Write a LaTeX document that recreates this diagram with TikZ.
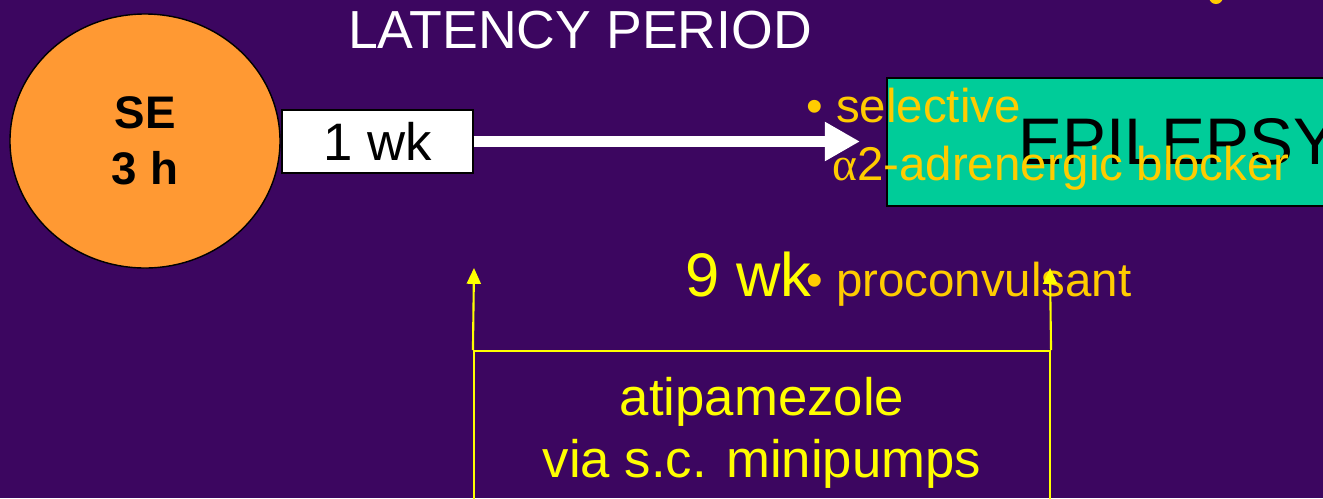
\documentclass[tikz,border=0pt]{standalone}
\usepackage{fontspec}
\setmainfont{Liberation Sans}
\newfontfamily\greekfont{Liberation Serif}
\usetikzlibrary{arrows.meta,shapes.geometric}
\definecolor{bgpurple}{HTML}{3C0660}
\definecolor{seorange}{HTML}{FF9933}
\definecolor{epigreen}{HTML}{00CC99}
\definecolor{bulletgold}{HTML}{FFCC00}
\definecolor{pumpyellow}{HTML}{FFFF00}
\begin{document}
\begin{tikzpicture}[x=0.2mm, y=-0.2mm,
    every node/.style={inner sep=0pt},
    bul/.style={text=bulletgold, font=\fontsize{27}{32}\selectfont, anchor=base west},
    yline/.style={pumpyellow, line width=1.2pt},
    ytip/.style={-{Triangle[length=9pt,width=8pt]}}]
    \fill[bgpurple] (0,0) rectangle (1323,498);
    \useasboundingbox (0,0) rectangle (1323,498);
    \fill[bulletgold] (1216,-3) circle (7);
    % status epilepticus and latency
    \node[ellipse, draw, line width=0.8pt, fill=seorange, minimum width=5.4cm, minimum height=5.08cm,
      align=center, font=\fontsize{26}{32}\selectfont\bfseries] (se) at (145,141) {SE\\3 h};
    \node[draw, line width=0.8pt, fill=white, minimum width=3.82cm, minimum height=1.26cm,
      font=\fontsize{30}{36}\selectfont] (wk) at (377.5,141.5) {1 wk};
    \node[text=white, font=\fontsize{30.5}{36}\selectfont] (latency) at (580,30) {LATENCY PERIOD};
    \coordinate (arrtip) at (860,141.5);
    \draw[white, line width=6.8pt, -{Triangle[length=20pt,width=21pt]}] (wk.east) -- (arrtip);
    % epilepsy
    \node[draw, line width=1pt, fill=epigreen, minimum width=10cm, minimum height=2.56cm, anchor=west] (epi) at (886,142) {};
    \node[anchor=west, font=\fontsize{37.5}{44}\selectfont] (epitext) at (1018,142) {EPILEPSY};
    \node[bul] (selective) at (806,122) {\textbullet\ selective};
    \node[bul] (blocker) at (832,180) {{\greekfont α}2-adrenergic blocker};
    % treatment
    \node[anchor=base west, text=pumpyellow, font=\fontsize{35}{42}\selectfont] (ninewk) at (685,296) {9 wk};
    \node[bul] (procon) at (806,296) {\textbullet\ proconvulsant};
    \node[draw=pumpyellow, line width=1.2pt, minimum width=11.52cm, minimum height=3.28cm, anchor=north,
      align=center, text=pumpyellow, font=\fontsize{30}{35}\selectfont] (pump) at (762,350) {atipamezole\\via s.c. minipumps};
    \coordinate (lhead) at (474,268);
    \coordinate (rhead) at (1050,268);
    \draw[yline, ytip] (pump.north west) -- (lhead);
    \draw[yline, ytip] (pump.north east) -- (rhead);
\end{tikzpicture}
\end{document}
